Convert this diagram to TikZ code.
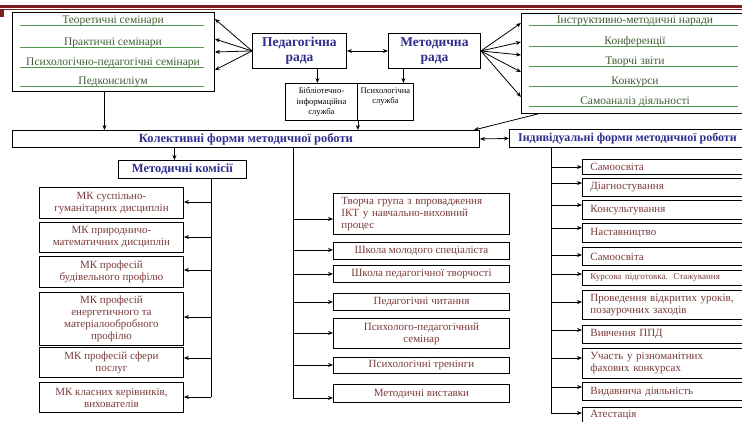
\documentclass[tikz,border=0pt]{standalone}
\usepackage{fontspec}
\setmainfont{Liberation Serif}
\usetikzlibrary{arrows.meta, positioning, calc}

\definecolor{frameRed}{HTML}{7B1E1E}
\definecolor{headBlue}{HTML}{2E2E8F}
\definecolor{itemRed}{HTML}{7A3B3B}
\definecolor{itemGreen}{HTML}{3E5E32}
\definecolor{lineGreen}{HTML}{4C9A4C}

\begin{document}
\begin{tikzpicture}[x=1pt, y=-1pt,
    every node/.style={font=\fontsize{11}{12}\selectfont},
    box/.style={draw, line width=0.9pt, anchor=north west, inner sep=0pt, align=center},
    head/.style={box, font=\fontsize{12.5}{14}\selectfont\bfseries, text=headBlue},
    item/.style={box, text=itemRed},
    litem/.style={box, text=itemRed, align=left, inner xsep=8pt},
    gitem/.style={text=itemGreen, inner sep=0pt, font=\fontsize{11.5}{13}\selectfont},
    tiny/.style={font=\fontsize{8.5}{10.5}\selectfont},
    arr/.style={-{Stealth[length=5pt,width=4pt]}, line width=0.8pt},
    darr/.style={{Stealth[length=5pt,width=4pt]}-{Stealth[length=5pt,width=4pt]}, line width=0.8pt},
    bus/.style={line width=0.8pt},
  ]
    \clip (0,0) rectangle (742,421);

    % top frame
    \fill[frameRed] (0,4.5) rectangle (742,7.5);
    \draw[frameRed, line width=0.8pt] (0,9.5) -- (742,9.5);
    \fill[frameRed] (0,9.5) rectangle (4,17);

    % left forms
    \node[box, minimum width=202, minimum height=79] (forms) at (12,12) {};
    \foreach \n/\y/\txt in {f1/21/Теоретичні семінари, f2/43/Практичні семінари,
        f3/63/Психологічно-педагогічні семінари, f4/82/Педконсиліум}{
      \node[gitem] (\n) at (113,\y) {\txt};
      \draw[lineGreen, line width=0.8pt] (20,\y+4.5) -- (204,\y+4.5);
    }

    % right forms
    \node[box, minimum width=221, minimum height=100] (mforms) at (521,13) {};
    \foreach \n/\y/\txt in {m1/21/Інструктивно-методичні наради, m2/42/Конференції,
        m3/62/Творчі звіти, m4/82/Конкурси, m5/102/Самоаналіз діяльності}{
      \node[gitem] (\n) at (635,\y) {\txt};
      \draw[lineGreen, line width=0.8pt] (529,\y+4.5) -- (738,\y+4.5);
    }

    % councils
    \node[head, minimum width=94, minimum height=35, font=\fontsize{13.5}{15}\selectfont\bfseries]
         (ped) at (252,33) {Педагогічна\\рада};
    \node[head, minimum width=92, minimum height=35, font=\fontsize{13.5}{15}\selectfont\bfseries]
         (met) at (388,33) {Методична\\рада};
    \draw[darr] (ped.east) -- (met.west);
    \foreach \dy in {7,27,40,58}
      \draw[arr] (ped.west) -- ([yshift=-\dy]forms.north east);
    \foreach \dy in {10,29,42,59,84}
      \draw[arr] (met.east) -- ([yshift=-\dy]mforms.north west);

    % services
    \node[box, tiny, minimum width=72, minimum height=37] (lib) at (285,83)
         {Бібліотечно-\\інформаційна\\служба};
    \node[box, minimum width=56, minimum height=37] (psy) at (357,83) {};
    \node[tiny, anchor=north, align=center] (psyt) at ([yshift=-1]psy.north)
         {Психологічна\\служба};
    \draw[arr] ([xshift=18]ped.south) -- ([xshift=18]ped.south |- lib.north);
    \draw[arr] ([xshift=-31]met.south) -- ([xshift=-31]met.south |- psy.north);

    % collective / individual
    \node[head, minimum width=467, minimum height=17] (kol) at (12,130)
         {Колективні форми методичної роботи};
    \node[head, minimum width=236, minimum height=18, font=\fontsize{12}{14}\selectfont\bfseries]
         (ind) at (509,129) {Індивідуальні форми методичної роботи};
    \draw[darr] (kol.east) -- (ind.west);
    \draw[arr] ([xshift=-9]forms.south) -- ([xshift=-9]forms.south |- kol.north);
    \draw[arr] (lib.south east) -- (lib.south east |- kol.north);
    \draw[arr] ([xshift=17]mforms.south west) -- ([xshift=-6]kol.north east);

    % methodical commissions
    \node[head, minimum width=128, minimum height=18] (mkc) at (118,160)
         {Методичні комісії};
    \draw[arr] ([xshift=-8]mkc.north |- kol.south) -- ([xshift=-8]mkc.north);
    \coordinate (mkbus) at ([xshift=29]mkc.south);
    \draw[bus] (mkbus) -- (mkbus |- 0,397);
    \foreach \i/\t/\b/\a/\txt in {
        1/187/218/202/{МК суспільно-\\гуманітарних дисциплін},
        2/222/252/237/{МК природничо-\\математичних дисциплін},
        3/256/287/270/{МК професій\\будівельного профілю},
        4/292/345/317/{МК професій\\енергетичного та\\матеріалообробного\\профілю},
        5/347/377/358/{МК професій сфери\\послуг},
        6/382/412/397/{МК класних керівників,\\вихователів}}{
      \node[item, minimum width=144, minimum height={\b-\t}] (mk\i) at (39,\t) {\txt};
      \draw[arr] (mkbus |- 0,\a) -- (mk\i.east |- 0,\a);
    }

    % collective forms list
    \coordinate (colbus) at (293,147);
    \draw[bus] (colbus) -- (colbus |- 0,398);
    \node[litem, minimum width=176, minimum height=41, text width=160] (col1) at (333,193)
         {Творча група з впровадження\\ІКТ у навчально-виховний\\процес};
    \draw[arr] (colbus |- 0,219) -- (col1.west |- 0,219);
    \foreach \i/\t/\b/\a/\txt in {
        2/242/259/250/Школа молодого спеціаліста,
        3/265/282/274/Школа педагогічної творчості,
        4/293/310/302/Педагогічні читання,
        5/318/348/333/{Психолого-педагогічний\\семінар},
        6/357/373/365/Психологічні тренінги,
        7/384/402/398/Методичні виставки}{
      \node[item, minimum width=176, minimum height={\b-\t}] (col\i) at (333,\t) {\txt};
      \draw[arr] (colbus |- 0,\a) -- (col\i.west |- 0,\a);
    }

    % individual forms list
    \coordinate (indbus) at (551,147);
    \draw[bus] (indbus) -- (indbus |- 0,413);
    \foreach \i/\t/\b/\a/\txt in {
        1/159/174/167/Самоосвіта,
        2/178/196/183/Діагностування,
        3/200/219/205/Консультування,
        4/223/242/228/Наставництво,
        5/247/265/255/Самоосвіта,
        6/270/285/274/{\fontsize{9}{10}\selectfont Курсова підготовка. Стажування},
        7/290/319/302/{Проведення відкритих уроків,\\позаурочних заходів},
        8/325/343/330/Вивчення ППД,
        9/348/378/358/{Участь у різноманітних\\фахових конкурсах},
        10/382/400/387/Видавнича діяльність,
        11/407/422/413/Атестація}{
      \node[litem, minimum width=166, minimum height={\b-\t}, text width=150] (ind\i) at (582,\t) {\txt};
      \draw[arr] (indbus |- 0,\a) -- (ind\i.west |- 0,\a);
    }
\end{tikzpicture}
\end{document}
